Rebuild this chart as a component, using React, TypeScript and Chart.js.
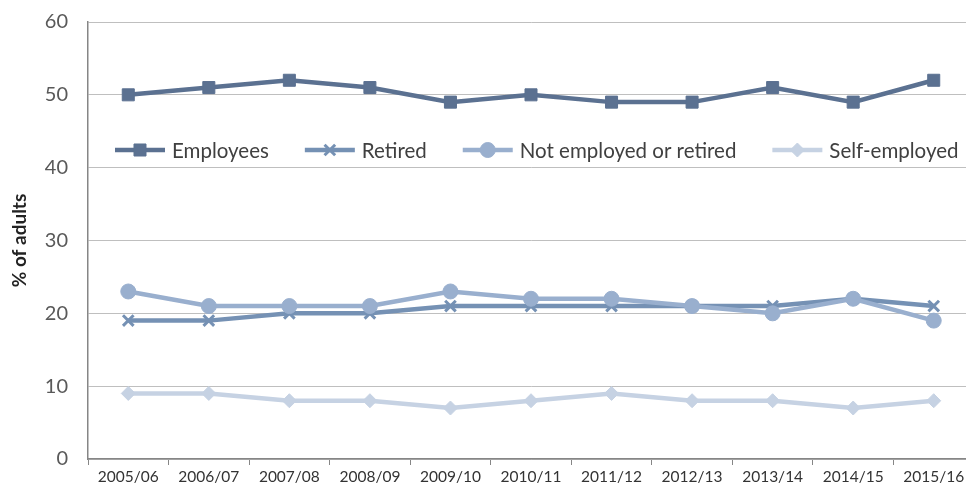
import React, { useEffect, useRef } from 'react';
import { Chart, registerables } from 'chart.js';
import { drawPoint } from 'chart.js/helpers';

Chart.register(...registerables);

const categories = ['2005/06', '2006/07', '2007/08', '2008/09', '2009/10', '2010/11', '2011/12', '2012/13', '2013/14', '2014/15', '2015/16'];
const employees = [50, 51, 52, 51, 49, 50, 49, 49, 51, 49, 52];
const retired = [19, 19, 20, 20, 21, 21, 21, 21, 21, 22, 21];
const notEmployed = [23, 21, 21, 21, 23, 22, 22, 21, 20, 22, 19];
const selfEmployed = [9, 9, 8, 8, 7, 8, 9, 8, 8, 7, 8];
const seriesNames = ['Employees', 'Retired', 'Not employed or retired', 'Self-employed'];
const seriesColors = ['#5B7191', '#7591B4', '#99AFCE', '#C6D2E3'];
const yMin = 0;
const yMax = 60;
const yStep = 10;
const yTitle = '% of adults';

const FONT = 'Lato, "Open Sans", sans-serif';

const legendPlugin = {
  id: 'insideLegend',
  afterDraw(chart: any) {
    const ctx = chart.ctx;
    ctx.save();
    ctx.font = `20.5px ${FONT}`;
    let x = 115;
    const y = 150;
    chart.data.datasets.forEach((ds: any) => {
      ctx.strokeStyle = ds.borderColor;
      ctx.lineWidth = ds.borderWidth;
      ctx.beginPath();
      ctx.moveTo(x, y);
      ctx.lineTo(x + 50, y);
      ctx.stroke();
      ctx.fillStyle = ds.pointBackgroundColor;
      ctx.strokeStyle = ds.pointBorderColor;
      ctx.lineWidth = ds.pointBorderWidth;
      drawPoint(ctx, { pointStyle: ds.pointStyle, radius: ds.pointRadius, rotation: 0, borderWidth: ds.pointBorderWidth } as any, x + 25, y);
      ctx.fillStyle = '#404040';
      ctx.textBaseline = 'middle';
      ctx.textAlign = 'left';
      ctx.fillText(ds.label, x + 57, y + 1);
      x += 57 + ctx.measureText(ds.label).width + 36;
    });
    ctx.restore();
  },
};

export default function App() {
  const ref = useRef<HTMLCanvasElement>(null);
  useEffect(() => {
    if (!ref.current) return;
    const values = [employees, retired, notEmployed, selfEmployed];
    const styles = ['rect', 'crossRot', 'circle', 'rectRot'];
    const radii = [8.5, 7.5, 7.5, 7];
    const pbw = [1, 3, 1, 1];
    const chart = new Chart(ref.current, {
      type: 'line',
      data: {
        labels: categories,
        datasets: values.map((v, i) => ({
          label: seriesNames[i],
          data: v,
          borderColor: seriesColors[i],
          backgroundColor: seriesColors[i],
          borderWidth: 4.5,
          pointStyle: styles[i] as any,
          pointRadius: radii[i],
          pointBackgroundColor: seriesColors[i],
          pointBorderColor: seriesColors[i],
          pointBorderWidth: pbw[i],
          tension: 0,
          order: 4 - i,
        })),
      },
      options: {
        responsive: false,
        animation: false,
        layout: { autoPadding: false, padding: { top: 22, right: 6, left: 0, bottom: 0 } },
        plugins: { legend: { display: false }, tooltip: { enabled: false } },
        scales: {
          x: {
            offset: true,
            grid: { offset: true, drawOnChartArea: false, tickLength: 6, color: '#868686', tickColor: '#868686' },
            border: { color: '#868686', width: 1.5 },
            ticks: { color: '#333333', font: { family: FONT, size: 15.5 }, padding: 3, maxRotation: 0, autoSkip: false },
            afterFit: (s: any) => { s.height = 31; },
          },
          y: {
            min: yMin,
            max: yMax,
            ticks: { stepSize: yStep, color: '#595959', font: { family: FONT, size: 20 }, padding: 10 },
            grid: { color: '#BFBFBF', drawTicks: true, tickLength: 10, tickColor: 'rgba(0,0,0,0)', lineWidth: 1 },
            border: { color: '#868686', width: 1.5 },
            title: { display: true, text: yTitle, color: '#222222', font: { family: FONT, size: 19, weight: 'bold' }, padding: { top: 8, bottom: 0 } },
            afterFit: (s: any) => { s.width = 88; },
          },
        },
      },
      plugins: [legendPlugin],
    });
    return () => chart.destroy();
  }, []);
  return (
    <div style={{ position: 'absolute', left: 0, top: 0, width: 966, height: 490, overflow: 'hidden', background: '#fff' }}>
      <canvas ref={ref} width={980} height={490} style={{ display: 'block' }} />
    </div>
  );
}
